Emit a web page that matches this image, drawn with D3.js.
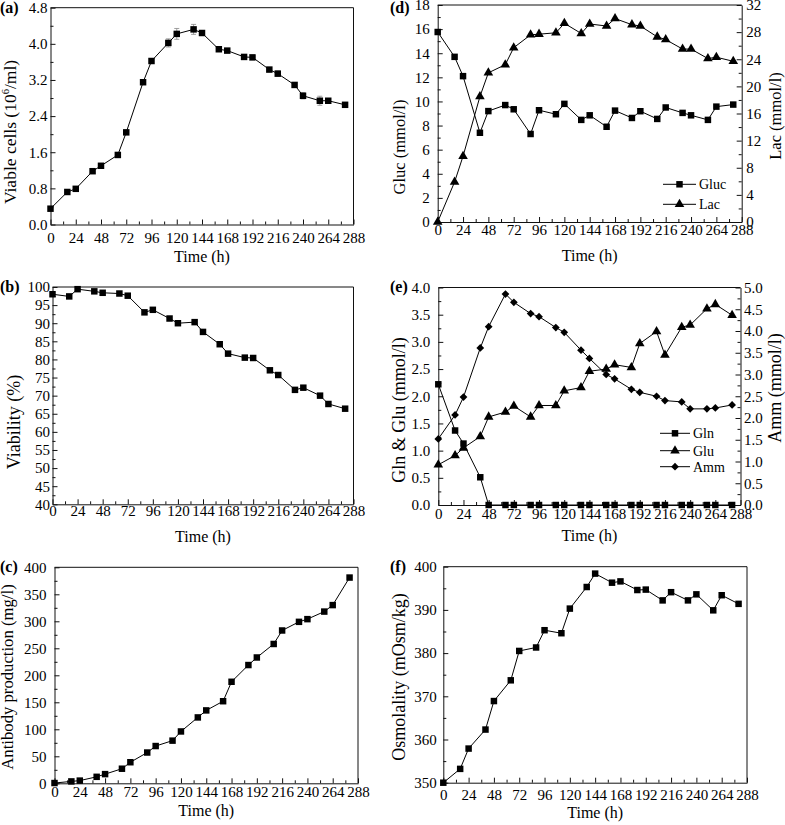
<!DOCTYPE html>
<html><head><meta charset="utf-8">
<script src="https://cdn.jsdelivr.net/npm/d3@7"></script>
<style>
body{margin:0;background:#fff}
svg text{font-family:"Liberation Serif","Times New Roman",serif;fill:#000}
</style></head><body>
<svg id="chart" width="785" height="825"></svg>
<script>
// ---------- data ----------
const time = [0,16,24,40,48,64,72,88,96,112,120,136,144,160,168,184,192,208,216,232,240,256,264,280];
const viableCells = [0.35,0.72,0.79,1.18,1.30,1.54,2.04,3.15,3.62,4.02,4.22,4.32,4.24,3.88,3.85,3.71,3.70,3.43,3.34,3.09,2.85,2.74,2.74,2.65];
const viableCellsErr = [0,0.02,0.03,0.02,0.02,0.02,0.03,0.03,0.03,0.09,0.12,0.11,0.05,0.03,0.02,0.02,0.02,0.04,0.06,0.05,0.07,0.10,0.04,0.02];
const viability = [98.0,97.4,99.4,98.8,98.4,98.2,97.6,93.0,93.7,91.3,90.0,90.3,87.6,84.2,81.6,80.5,80.4,77.0,75.7,71.6,72.2,70.0,67.7,66.4];
const viabilityErr = [0.3,0.3,0.3,0.2,0.2,0.2,0.2,0.3,0.3,0.3,0.3,0.3,0.3,0.3,0.3,0.3,0.3,0.3,0.4,0.3,0.3,0.3,0.6,0.3];
const antibody = [0.5,3.5,5,12,17,27,39,57,69,79,96,122,135,152,188,219,233,258,283,299,304,318,330,381];
const gluc = [15.76,13.7,12.1,7.4,9.2,9.7,9.35,7.3,9.27,8.94,9.8,8.47,8.85,7.9,9.24,8.63,9.19,8.55,9.5,9.05,8.85,8.47,9.57,9.74];
const lac = [0,5.9,9.7,18.5,22.0,23.2,25.7,27.6,27.7,27.9,29.3,27.8,29.2,28.9,30.0,29.1,28.9,27.3,26.9,25.5,25.5,24.1,24.3,23.7];
const gln = [2.22,1.37,1.13,0.51,0,0,0,0,0,0,0,0,0,0,0,0,0,0,0,0,0,0,0,0];
const glu = [0.74,0.91,1.05,1.26,1.62,1.71,1.82,1.62,1.83,1.83,2.10,2.16,2.46,2.50,2.58,2.53,2.97,3.19,2.76,3.27,3.31,3.61,3.69,3.49];
const amm = [1.52,2.07,2.48,3.61,4.10,4.85,4.66,4.40,4.33,4.08,3.97,3.56,3.37,3.00,2.90,2.66,2.59,2.50,2.40,2.37,2.21,2.21,2.23,2.30];
const osmolality = [350,353.2,357.9,362.3,368.9,373.7,380.5,381.3,385.3,384.6,390.3,395.3,398.4,396.3,396.6,394.6,394.7,392.2,394.1,392.2,393.6,389.9,393.4,391.4];

const xTicks = [0,24,48,72,96,120,144,168,192,216,240,264,288];
const xMinor = [12,36,60,84,108,132,156,180,204,228,252,276];
const ticksA = [0,0.8,1.6,2.4,3.2,4.0,4.8];
const ticksB = [40,45,50,55,60,65,70,75,80,85,90,95,100];
const ticksC = [0,50,100,150,200,250,300,350,400];
const ticksDLeft = [0,2,4,6,8,10,12,14,16,18];
const ticksDRight = [0,4,8,12,16,20,24,28,32];
const ticksELeft = [0,0.5,1.0,1.5,2.0,2.5,3.0,3.5,4.0];
const ticksERight = [0,0.5,1.0,1.5,2.0,2.5,3.0,3.5,4.0,4.5,5.0];
const ticksF = [350,360,370,380,390,400];

const svg = d3.select("#chart");
const FONT = '"Liberation Serif","Times New Roman",serif';
const TICK_FS = 15;

function minorOf(ticks){const r=[];for(let i=0;i<ticks.length-1;i++)r.push((ticks[i]+ticks[i+1])/2);return r;}

function styleAxis(sel){
  sel.attr("font-size",TICK_FS).attr("font-family",FONT);
  sel.selectAll(".domain").attr("stroke","#111").attr("stroke-width",1);
  sel.selectAll(".tick line").attr("stroke","#111");
}

function panel(c){
  const g = svg.append("g");
  const x = d3.scaleLinear().domain([0,288]).range([c.x0,c.x1]);
  const y = d3.scaleLinear().domain(c.yDom).range([c.y1,c.y0]);
  let y2 = null;
  g.append("line").attr("x1",c.x0).attr("x2",c.x1).attr("y1",c.y0).attr("y2",c.y0).attr("stroke","#111");
  const xb = g.append("g").attr("transform",`translate(0,${c.y1})`)
    .call(d3.axisBottom(x).tickValues(xTicks).tickSize(-5).tickSizeOuter(0).tickPadding(c.xPad).tickFormat(d3.format("d")));
  styleAxis(xb);
  const xm = g.append("g").attr("transform",`translate(0,${c.y1})`)
    .call(d3.axisBottom(x).tickValues(xMinor).tickSize(-3).tickSizeOuter(0).tickFormat(""));
  xm.select(".domain").remove(); styleAxis(xm);
  const yl = g.append("g").attr("transform",`translate(${c.x0},0)`)
    .call(d3.axisLeft(y).tickValues(c.yTicks).tickSize(-5).tickSizeOuter(0).tickPadding(c.yPad).tickFormat(d3.format(c.yFmt)));
  styleAxis(yl);
  const ylm = g.append("g").attr("transform",`translate(${c.x0},0)`)
    .call(d3.axisLeft(y).tickValues(minorOf(c.yTicks)).tickSize(-3).tickSizeOuter(0).tickFormat(""));
  ylm.select(".domain").remove(); styleAxis(ylm);
  if(c.y2Dom){
    y2 = d3.scaleLinear().domain(c.y2Dom).range([c.y1,c.y0]);
    const yr = g.append("g").attr("transform",`translate(${c.x1},0)`)
      .call(d3.axisRight(y2).tickValues(c.y2Ticks).tickSize(-5).tickSizeOuter(0).tickPadding(c.y2Pad).tickFormat(d3.format(c.y2Fmt)));
    styleAxis(yr);
    const yrm = g.append("g").attr("transform",`translate(${c.x1},0)`)
      .call(d3.axisRight(y2).tickValues(minorOf(c.y2Ticks)).tickSize(-3).tickSizeOuter(0).tickFormat(""));
    yrm.select(".domain").remove(); styleAxis(yrm);
  } else {
    g.append("line").attr("x1",c.x1).attr("x2",c.x1).attr("y1",c.y0).attr("y2",c.y1).attr("stroke","#111");
  }
  g.append("text").attr("x",(c.x0+c.x1)/2).attr("y",c.xTitleY).attr("text-anchor","middle")
    .attr("font-size",16).text("Time (h)");
  const yt = g.append("text").attr("transform",`translate(${c.yTitleX},${c.yTitleY}) rotate(-90)`)
    .attr("text-anchor","middle").attr("font-size",c.yTitleFs);
  if(c.yTitleParts){
    c.yTitleParts.forEach(p=>{
      const t = yt.append("tspan").text(p.t);
      if(p.sup) t.attr("font-size",c.yTitleFs*0.6).attr("dy",-7);
      if(p.down) t.attr("dy",7);
    });
  } else yt.text(c.yTitle);
  if(c.y2Title){
    g.append("text").attr("transform",`translate(${c.y2TitleX},${c.y2TitleY}) rotate(-90)`)
      .attr("text-anchor","middle").attr("font-size",c.y2TitleFs).text(c.y2Title);
  }
  g.append("text").attr("x",c.labX).attr("y",c.labY).attr("font-size",16).attr("font-weight","bold").text(c.lab);
  return {g,x,y,y2};
}

function symbolPath(shape){
  if(shape==="square") return d3.symbol(d3.symbolSquare,42)();
  if(shape==="triangle") return d3.symbol(d3.symbolTriangle,40)();
  return d3.symbol(d3.symbolSquare,30)();
}
function series(p, scale, vals, shape, err){
  const line = d3.line().x((d,i)=>p.x(time[i])).y(d=>scale(d));
  if(err){
    const eg = p.g.append("g").attr("stroke","#888").attr("stroke-width",0.8);
    vals.forEach((v,i)=>{
      if(!err[i]) return;
      const xx=p.x(time[i]), a=scale(v-err[i]), b=scale(v+err[i]);
      eg.append("line").attr("x1",xx).attr("x2",xx).attr("y1",a).attr("y2",b);
      eg.append("line").attr("x1",xx-2.5).attr("x2",xx+2.5).attr("y1",a).attr("y2",a);
      eg.append("line").attr("x1",xx-2.5).attr("x2",xx+2.5).attr("y1",b).attr("y2",b);
    });
  }
  p.g.append("path").datum(vals).attr("d",line).attr("fill","none").attr("stroke","#000").attr("stroke-width",1);
  p.g.selectAll(null).data(vals).enter().append("path")
    .attr("d",symbolPath(shape))
    .attr("transform",(d,i)=>`translate(${p.x(time[i])},${scale(d)})${shape==="diamond"?" rotate(45)":""}`)
    .attr("fill","#000");
}
function legend(p, items, lx0, lx1, tx, ys){
  items.forEach((it,i)=>{
    const yy = ys[i];
    p.g.append("line").attr("x1",lx0).attr("x2",lx1).attr("y1",yy).attr("y2",yy).attr("stroke","#000");
    p.g.append("path").attr("d",symbolPath(it.shape))
      .attr("transform",`translate(${(lx0+lx1)/2},${yy})${it.shape==="diamond"?" rotate(45)":""}`).attr("fill","#000");
    p.g.append("text").attr("x",tx).attr("y",yy+5).attr("font-size",14).text(it.name);
  });
}

// (a)
const pa = panel({x0:50.5,x1:353.5,y0:7.7,y1:224.5,yDom:[0,4.8],yTicks:ticksA,yFmt:".1f",xPad:7.5,yPad:3,
  xTitleY:262,yTitleX:16,yTitleY:132,yTitleFs:17.5,
  yTitleParts:[{t:"Viable cells (10"},{t:"6",sup:true},{t:"/ml)",down:true}],lab:"(a)",labX:0,labY:13});
series(pa, pa.y, viableCells, "square", viableCellsErr);

// (b)
const pb = panel({x0:52.5,x1:353.5,y0:287,y1:504.3,yDom:[40,100],yTicks:ticksB,yFmt:"d",xPad:1.5,yPad:2.5,
  xTitleY:542,yTitleX:20,yTitleY:422,yTitleFs:18,yTitle:"Viability (%)",lab:"(b)",labX:0,labY:292});
series(pb, pb.y, viability, "square", viabilityErr);

// (c)
const pc = panel({x0:54.5,x1:358,y0:567.3,y1:783.3,yDom:[0,400],yTicks:ticksC,yFmt:"d",xPad:3,yPad:8,
  xTitleY:816,yTitleX:13,yTitleY:677,yTitleFs:16.7,yTitle:"Antibody production (mg/l)",lab:"(c)",labX:0,labY:572});
series(pc, pc.y, antibody, "square");

// (d)
const pd = panel({x0:437.7,x1:741.7,y0:5,y1:222,yDom:[0,18],yTicks:ticksDLeft,yFmt:"d",xPad:2.5,yPad:8,
  y2Dom:[0,32],y2Ticks:ticksDRight,y2Fmt:"d",y2Pad:4.5,
  xTitleY:261,yTitleX:404.5,yTitleY:147,yTitleFs:16.5,yTitle:"Gluc (mmol/l)",
  y2TitleX:780.5,y2TitleY:116,y2TitleFs:16.5,y2Title:"Lac (mmol/l)",lab:"(d)",labX:390,labY:13});
series(pd, pd.y, gluc, "square");
series(pd, pd.y2, lac, "triangle");
legend(pd,[{name:"Gluc",shape:"square"},{name:"Lac",shape:"triangle"}],663,696,699,[184.3,204.3]);

// (e)
const pe = panel({x0:438.3,x1:740.5,y0:287.5,y1:505,yDom:[0,4],yTicks:ticksELeft,yFmt:".1f",xPad:3,yPad:8,
  y2Dom:[0,5],y2Ticks:ticksERight,y2Fmt:".1f",y2Pad:3.5,
  xTitleY:541,yTitleX:404.5,yTitleY:410,yTitleFs:18,yTitle:"Gln & Glu (mmol/l)",
  y2TitleX:781,y2TitleY:388,y2TitleFs:18,y2Title:"Amm (mmol/l)",lab:"(e)",labX:390,labY:292});
series(pe, pe.y, gln, "square");
series(pe, pe.y, glu, "triangle");
series(pe, pe.y2, amm, "diamond");
legend(pe,[{name:"Gln",shape:"square"},{name:"Glu",shape:"triangle"},{name:"Amm",shape:"diamond"}],660,690,693,[433.3,450.7,466.7]);

// (f)
const pf = panel({x0:443.3,x1:747,y0:566.7,y1:782.7,yDom:[350,400],yTicks:ticksF,yFmt:"d",xPad:7,yPad:6.6,
  xTitleY:818,yTitleX:404.5,yTitleY:677,yTitleFs:18,yTitle:"Osmolality (mOsm/kg)",lab:"(f)",labX:390,labY:572});
series(pf, pf.y, osmolality, "square");
</script>
</body></html>
